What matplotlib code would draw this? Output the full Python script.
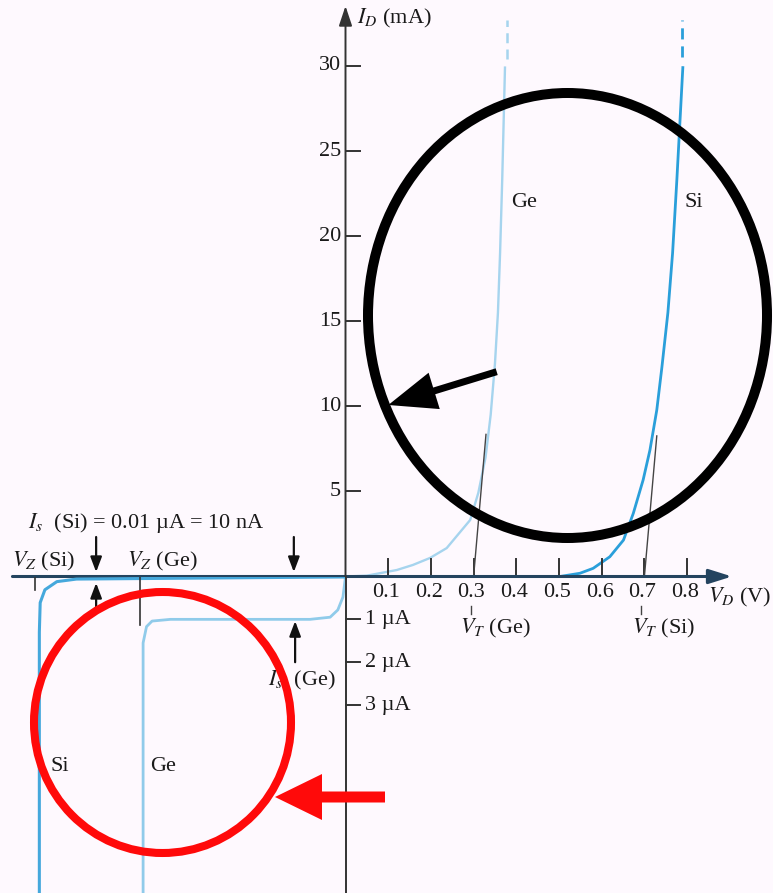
import matplotlib
matplotlib.use('Agg')
import matplotlib.pyplot as plt
from matplotlib import patches

plt.rcParams['font.family'] = ['Liberation Serif', 'DejaVu Serif']
plt.rcParams['mathtext.fontset'] = 'stix'

# forward characteristics (V, mA)
ge_fwd_v = [0.0, 0.05, 0.12, 0.158, 0.198, 0.237, 0.292, 0.311, 0.328, 0.340, 0.350,
            0.357, 0.362, 0.367, 0.3735]
ge_fwd_i = [0.0, 0.05, 0.38, 0.68, 1.09, 1.67, 3.32, 4.91, 7.0, 9.5, 12.5,
            15.5, 19.0, 23.3, 29.9]
si_fwd_v = [0.0, 0.502, 0.549, 0.58, 0.619, 0.651, 0.674, 0.697, 0.713, 0.729, 0.741,
            0.755, 0.766, 0.776, 0.79]
si_fwd_i = [0.0, 0.0, 0.19, 0.48, 1.16, 2.14, 3.71, 5.67, 7.43, 9.78, 12.3,
            15.5, 19.0, 23.3, 29.9]

# reverse characteristics (V, uA)
ge_rev_v = [0.0, -0.006, -0.018, -0.036, -0.083, -0.41, -0.453, -0.466, -0.474, -0.474, -0.474]
ge_rev_i = [0.0, -0.48, -0.78, -0.95, -1.0, -1.0, -1.04, -1.17, -1.55, -2.9, -7.5]
si_rev_v = [0.0, -0.63, -0.676, -0.704, -0.715, -0.717, -0.717]
si_rev_i = [-0.01, -0.06, -0.12, -0.31, -0.61, -1.3, -7.5]

ma_ticks = [5, 10, 15, 20, 25, 30]
ua_ticks = [1, 2, 3]
v_ticks = [0.1, 0.2, 0.3, 0.4, 0.5, 0.6, 0.7, 0.8]
vt_ge, vt_si = 0.3, 0.7
is_ge = 1.0

bg = '#fef9fe'
ink = '#1a1a1a'
c_si = '#2a9fda'
c_ge = '#a6d4ee'
c_si_rev = '#45a8dc'
c_ge_rev = '#90cbea'
axis_col = '#24445f'
fs = 16

W, H = 773, 893
y0 = 576.5          # pixel row of the V axis
px_v, px_ma, px_ua = 427.0, 17.02, 42.85
x0 = 345.5

fig = plt.figure(figsize=(W / 100, H / 100), dpi=100)
fig.patch.set_facecolor(bg)

ax_top = fig.add_axes([0, (H - y0) / H, 1, y0 / H])
ax_bot = fig.add_axes([0, 0, 1, (H - y0) / H])
xlim = (-x0 / px_v, (W - x0) / px_v)
for ax in (ax_top, ax_bot):
    ax.set_xlim(*xlim)
    ax.axis('off')
    ax.patch.set_alpha(0)
ax_top.set_ylim(0, y0 / px_ma)
ax_bot.set_ylim(-(H - y0) / px_ua, 0)

# curves
ax_top.plot(ge_fwd_v, ge_fwd_i, color=c_ge, lw=1.7, zorder=2)
ax_top.plot(si_fwd_v, si_fwd_i, color=c_si, lw=2.0, zorder=2)
ax_top.plot([0.378, 0.378], [30.4, 32.7], color=c_ge, lw=1.8, dashes=(4, 2.5))
ax_top.plot([0.789, 0.789], [30.5, 32.7], color=c_si, lw=2.0, dashes=(4, 2.5))
ax_bot.plot(ge_rev_v, ge_rev_i, color=c_ge_rev, lw=2.0, zorder=2)
ax_bot.plot(si_rev_v, si_rev_i, color=c_si_rev, lw=2.2, zorder=2)

# axes lines
ax_top.annotate('', xy=(0.905, 0), xytext=(-0.78, 0),
                arrowprops=dict(arrowstyle='-|>,head_length=0.7,head_width=0.22',
                                mutation_scale=20, lw=2.2, color=axis_col,
                                shrinkA=0, shrinkB=0), zorder=3)
ax_bot.plot([0, 0], [-8, 0], color='#333333', lw=1.4, clip_on=False)
ax_top.annotate('', xy=(0, (y0 - 6) / px_ma), xytext=(0, 0),
                arrowprops=dict(arrowstyle='-|>,head_length=0.6,head_width=0.2',
                                mutation_scale=20, lw=1.4, color='#333333',
                                shrinkA=0, shrinkB=0))

# current ticks
for t in ma_ticks:
    ax_top.plot([0, 0.033], [t, t], color='#333333', lw=1.4)
    ax_top.text(-0.01, t, str(t), ha='right', va='center', fontsize=fs, color=ink)
for t in ua_ticks:
    ax_bot.plot([0, 0.033], [-t, -t], color='#333333', lw=1.4)
    ax_bot.text(0.046, -t, '%d µA' % t, ha='left', va='center', fontsize=fs, color=ink)

# voltage ticks
for t in v_ticks:
    ax_top.plot([t, t], [0, 1.0], color='#333333', lw=1.4)
    ax_bot.text(t - 0.005, -0.38, '%.1f' % t, ha='center', va='center', fontsize=fs, color=ink)

# threshold lines
ax_top.plot([vt_ge, 0.329], [0, 8.35], color='#444444', lw=1.0)
ax_top.plot([vt_si, 0.729], [0, 8.26], color='#444444', lw=1.0)
ax_bot.plot([0.295, 0.295], [-0.7, -0.88], color='#444444', lw=1.0)
ax_bot.plot([0.693, 0.693], [-0.7, -0.88], color='#444444', lw=1.0)
ax_bot.text(0.267, -1.22, r'$V_T$ (Ge)', ha='left', va='center', fontsize=fs, color=ink)
ax_bot.text(0.670, -1.22, r'$V_T$ (Si)', ha='left', va='center', fontsize=fs, color=ink)

# axis titles
ax_top.text(0.027, 32.8, r'$I_D$ (mA)', ha='left', va='center', fontsize=fs, color=ink)
ax_bot.text(0.849, -0.48, r'$V_D$ (V)', ha='left', va='center', fontsize=fs, color=ink)

# zener voltage marks
ax_bot.plot([-0.727, -0.727], [0, -0.32], color='#333333', lw=1.2)
ax_bot.plot([-0.481, -0.481], [0, -1.13], color='#333333', lw=1.2)
ax_top.text(-0.781, 0.9, r'$V_Z$ (Si)', ha='left', va='center', fontsize=fs, color=ink)
ax_top.text(-0.512, 0.9, r'$V_Z$ (Ge)', ha='left', va='center', fontsize=fs, color=ink)

# saturation current marks
ax_top.text(-0.744, 3.14, r'$I_s$  (Si) = 0.01 µA = 10 nA', ha='left', va='center',
            fontsize=fs, color=ink)
arr = dict(arrowstyle='-|>,head_length=0.45,head_width=0.17', mutation_scale=20,
           lw=1.6, color='#111111', shrinkA=0, shrinkB=0)
ax_top.annotate('', xy=(-0.584, 0.26), xytext=(-0.584, 2.32), arrowprops=arr)
ax_top.annotate('', xy=(-0.121, 0.26), xytext=(-0.121, 2.32), arrowprops=arr)
ax_bot.annotate('', xy=(-0.584, -0.15), xytext=(-0.584, -0.78), arrowprops=arr)
ax_bot.annotate('', xy=(-0.118, -is_ge - 0.04), xytext=(-0.118, -2.0), arrowprops=arr)
ax_bot.text(-0.1815, -2.42, r'$I_s$  (Ge)', ha='left', va='center', fontsize=fs, color=ink)

# curve labels
ax_top.text(0.388, 22.0, 'Ge', ha='left', va='center', fontsize=fs, color=ink)
ax_top.text(0.795, 22.0, 'Si', ha='left', va='center', fontsize=fs, color=ink)
ax_bot.text(-0.692, -4.44, 'Si', ha='left', va='center', fontsize=fs, color=ink)
ax_bot.text(-0.458, -4.44, 'Ge', ha='left', va='center', fontsize=fs, color=ink)

# highlight circles and arrows on top, in pixel units
ov = fig.add_axes([0, 0, 1, 1])
ov.set_xlim(0, W)
ov.set_ylim(H, 0)
ov.axis('off')
ov.patch.set_alpha(0)
ov.add_patch(patches.Ellipse((567.5, 315.5), 399, 445, fill=False, lw=7.2,
                             edgecolor='black'))
ov.add_patch(patches.FancyArrow(496.7, 371.7, -108.4, 33.3, width=7, head_width=38,
                                head_length=48, length_includes_head=True,
                                color='black', lw=0))
ov.add_patch(patches.Ellipse((162.5, 722.5), 257, 261, fill=False, lw=5.8,
                             edgecolor='#ff0a0a'))
ov.add_patch(patches.FancyArrow(385, 797, -110, 0, width=11, head_width=46,
                                head_length=47, length_includes_head=True,
                                color='#ff0a0a', lw=0))

fig.savefig('out.png', dpi=100, facecolor=bg)
